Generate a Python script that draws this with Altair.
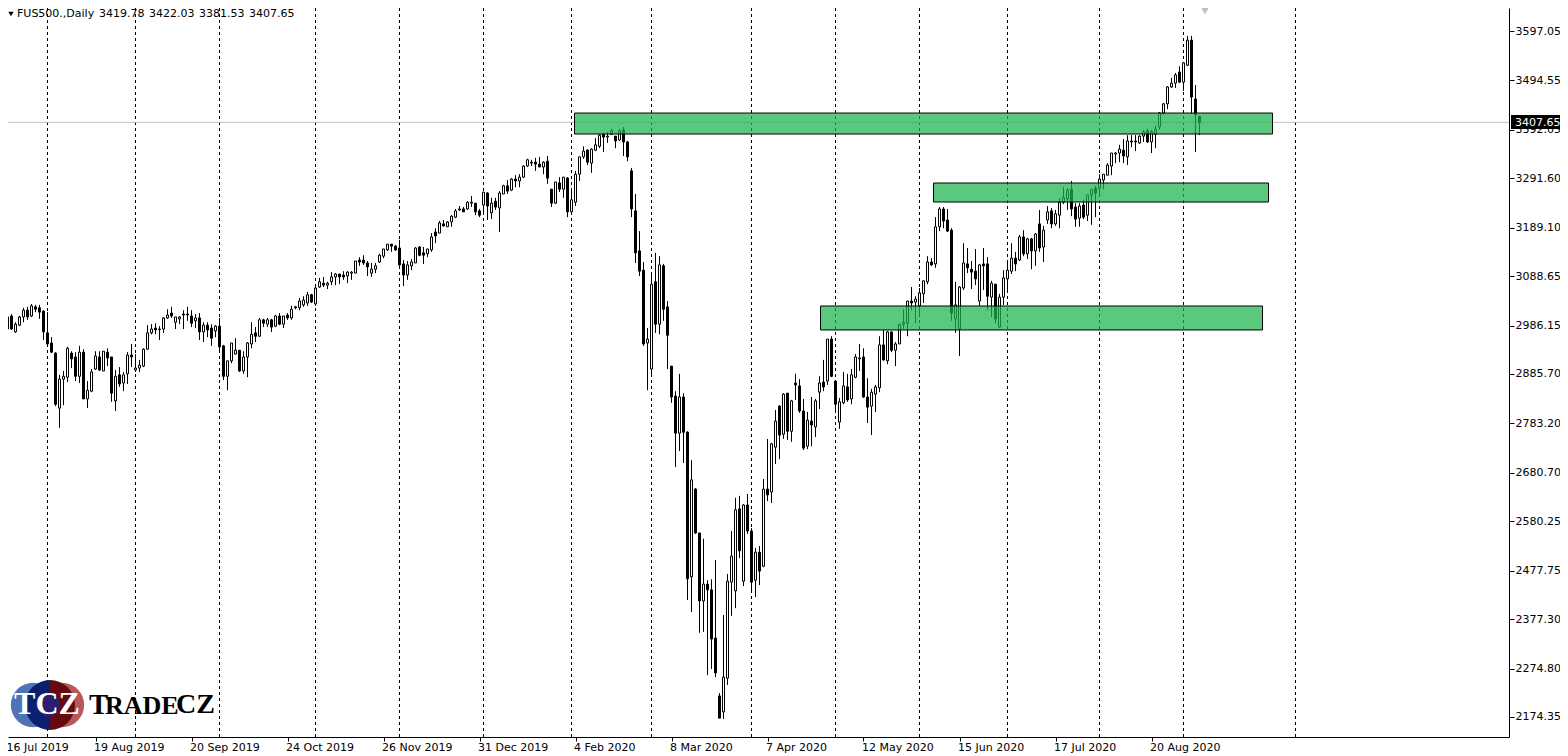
import json
import altair as alt
import pandas as pd

direction = ("BWBWWWBWBB" "BBBBWWWBBW" "BWWWBWBBWB" "WWBWWWWWBB" "WWBWWBBBWB" "WBBWBBWWWB"
             "WWWBWBWBWB" "WBWBWWWBWW" "BWWWBBWWWB" "BBWWWWWBBB" "BWWWBBWWBW" "BWWWWBWWBB"
             "WBWBWWBWBW" "WWWBBWBBWB" "WBWWWWBWWW" "BWWBWBBBBB" "BWWBWBBBBW" "BBWBBWBBBB"
             "WWWWBWBBWB" "WBWWBWBWBB" "BWBWWBWBBW" "WBWWWBBWWW" "BWBWWWWBWW" "WWBWWBBBWW"
             "WBBBWBBWBW" "WWWBWBWBWB" "WWBWWWWBBW" "BWWBWWWWWW" "BWBBWWBWWW" "WWWWBWWBBB")

highs = [
 3006,3006,3010,2993,3006,3023,3025,3031,3029,3029,3018,3014,2962,2931,2884,2892,2942,2933,2931,2944,
 2937,2871,2896,2933,2933,2933,2939,2921,2894,2900,2890,2931,2948,2927,2915,2939,2987,2989,2991,2985,
 3004,3020,3025,3004,3006,3018,3025,3018,3010,3012,2993,2993,2989,2987,3002,2946,2913,2950,2960,2935,
 2933,2952,2993,2983,3002,3000,3002,3000,3008,3012,3006,3012,3027,3027,3043,
 3047,3056,3052,3066,3085,3087,3077,3097,3095,3093,3099,3099,3099,3120,3128,3132,3120,3116,3116,3135,
 3145,3155,3155,3153,3164,3122,3120,3124,3149,3151,3149,3145,3178,3188,3203,3205,3203,3215,3228,3234,
 3232,3244,3255,3240,3228,3263,3263,3251,3251,3265,3278,3288,3292,3298,3300,3319,3332,3330,3334,3336,
 3327,3338,3269,3284,3294,3294,3294,3267,3307,3336,3358,3352,3354,3375,3383,
 3386,3388,3394,3379,3394,3398,3369,3313,3259,3182,3118,2981,3093,3137,3130,3114,3037,2902,2850,2886,
 2846,2767,2707,2649,2556,2544,2458,2460,2500,2224,2386,2471,2560,2629,2633,2616,2637,2566,2525,2529,
 2668,2751,2743,2811,2821,2846,2846,2832,2886,2875,
 2834,2807,2838,2834,2881,2915,2958,2964,2873,2836,2890,2886,2896,2927,2948,2939,2877,2855,2863,2964,
 2977,2975,2973,2952,2989,3020,3037,3066,3047,3064,3079,3130,3126,3211,3232,3232,3228,3188,3077,3068,
 3157,3147,3120,3145,3114,3147,3128,3079,3072,3052,3101,3118,3157,3139,3174,3184,3168,3168,3178,3226,
 3193,3234,3230,3226,3251,3273,3271,3286,3240,3240,3247,3257,3269,3276,3300,3300,3323,3344,3346,3361,
 3373,3381,3381,3381,3381,3392,3394,3392,3400,3429,3448,3483,3500,3510,3524,3533,3587,3587,3485,3422.03]

body_top = [
 3006,3004,3006,2989,3004,3018,3018,3027,3025,3023,3016,2971,2950,2929,2875,2881,2939,2929,2921,2931,
 2931,2852,2890,2923,2921,2933,2931,2921,2881,2884,2884,2925,2925,2898,2904,2937,2971,2979,2981,2979,
 3002,3008,3012,3004,3004,3010,3010,3006,3002,3002,2987,2987,2981,2985,2985,2944,2913,2950,2935,2935,
 2921,2950,2968,2971,2998,2998,2998,2998,3006,3006,3006,3008,3020,3025,3037,
 3039,3050,3050,3064,3077,3074,3074,3087,3093,3093,3091,3097,3097,3120,3122,3122,3116,3103,3110,3132,
 3145,3155,3155,3151,3147,3114,3112,3118,3147,3149,3137,3145,3170,3180,3199,3197,3201,3213,3224,3228,
 3228,3242,3242,3240,3224,3263,3261,3240,3244,3261,3276,3276,3290,3290,3294,3317,3330,3325,3325,3321,
 3325,3327,3269,3284,3282,3294,3292,3247,3300,3336,3348,3350,3352,3361,3381,
 3383,3379,3390,3379,3390,3392,3367,3307,3224,3141,3101,2958,3072,3077,3112,3110,3025,2902,2840,2838,
 2838,2765,2666,2647,2556,2450,2450,2438,2338,2218,2257,2456,2508,2604,2606,2614,2614,2560,2516,2516,
 2647,2647,2741,2788,2819,2844,2846,2830,2867,2861,
 2809,2790,2788,2830,2867,2869,2958,2958,2871,2828,2861,2859,2884,2921,2919,2921,2838,2848,2859,2946,
 2946,2973,2973,2948,2989,2993,3037,3037,3041,3054,3079,3118,3118,3191,3228,3228,3205,3184,3029,3066,
 3116,3114,3103,3099,3112,3114,3114,3074,3072,3045,3085,3101,3126,3126,3170,3170,3166,3166,3176,3197,
 3184,3222,3224,3218,3242,3251,3267,3269,3232,3234,3236,3257,3269,3271,3290,3300,3319,3344,3344,3352,
 3350,3369,3369,3369,3379,3388,3390,3388,3394,3427,3446,3481,3489,3506,3512,3531,3578,3578,3456,3419.78]

body_bottom = [
 2979,2979,2979,2973,2987,3004,3004,3006,3020,3014,2973,2948,2931,2823,2815,2875,2879,2917,2881,2881,
 2834,2834,2850,2896,2894,2892,2919,2846,2830,2865,2867,2886,2921,2894,2898,2902,2937,2971,2977,2978,
 2979,3002,3006,2993,3000,3008,3008,2991,2996,2973,2973,2977,2960,2975,2942,2881,2881,2913,2927,2892,
 2892,2921,2948,2964,2964,2991,2989,2983,2985,2989,2989,3002,3002,3023,3023,
 3029,3033,3035,3031,3066,3070,3070,3077,3087,3087,3087,3089,3095,3095,3118,3116,3108,3095,3103,3118,
 3130,3143,3151,3143,3112,3091,3091,3110,3116,3132,3132,3135,3143,3172,3178,3193,3191,3201,3211,3226,
 3222,3228,3240,3222,3215,3236,3234,3220,3232,3230,3259,3265,3267,3286,3286,3294,3317,3323,3321,3315,
 3315,3292,3240,3240,3269,3269,3222,3222,3242,3300,3336,3325,3323,3350,3358,
 3377,3377,3383,3369,3371,3367,3336,3228,3137,3099,2948,2950,2896,2989,2989,3020,2966,2838,2763,2763,
 2765,2461,2465,2556,2415,2415,2438,2336,2266,2172,2185,2255,2454,2436,2519,2456,2560,2454,2458,2477,
 2487,2635,2641,2734,2759,2761,2767,2767,2863,2809,
 2732,2736,2780,2776,2848,2859,2871,2881,2823,2786,2826,2832,2834,2879,2917,2838,2817,2819,2844,2857,
 2915,2913,2935,2935,2948,2989,2991,3033,3035,3027,3052,3077,3112,3114,3191,3203,3182,3012,3000,2979,
 3064,3106,3097,3083,3037,3110,3047,3045,3000,2983,3045,3083,3099,3114,3122,3135,3135,3141,3141,3147,
 3149,3205,3197,3197,3215,3242,3249,3228,3207,3209,3211,3215,3257,3261,3271,3288,3298,3317,3342,3344,
 3338,3336,3367,3367,3365,3379,3367,3367,3383,3398,3427,3446,3481,3489,3491,3491,3526,3460,3423,3407.65]

lows = [
 2979,2973,2977,2971,2985,2993,2998,3004,3014,3000,2956,2946,2929,2819,2774,2821,2869,2898,2871,2867,
 2834,2815,2848,2894,2892,2892,2902,2828,2809,2859,2850,2865,2900,2890,2890,2900,2937,2968,2968,2956,
 2971,3000,3002,2979,2989,2979,2996,2983,2981,2956,2952,2962,2944,2962,2935,2873,2852,2908,2927,2890,
 2886,2879,2939,2952,2964,2983,2983,2973,2983,2987,2981,2998,2998,3020,3018,
 3025,3027,3033,3027,3064,3066,3062,3070,3070,3072,3081,3074,3081,3095,3110,3112,3089,3087,3095,3116,
 3126,3141,3139,3141,3110,3068,3081,3101,3116,3130,3114,3128,3139,3157,3178,3191,3191,3191,3209,3224,
 3222,3226,3232,3215,3211,3220,3205,3207,3226,3180,3259,3259,3265,3273,3273,3292,3315,3317,3307,3315,
 3300,3280,3232,3238,3263,3251,3211,3222,3234,3286,3332,3319,3303,3348,3354,
 3346,3365,3383,3354,3369,3338,3327,3211,3116,3089,2944,2852,2884,2971,2968,2996,2896,2826,2693,2726,
 2701,2417,2392,2554,2349,2351,2261,2274,2257,2172,2170,2241,2384,2400,2504,2446,2554,2434,2423,2448,
 2485,2622,2618,2699,2709,2751,2749,2745,2832,2805,
 2728,2730,2736,2755,2813,2850,2863,2879,2809,2772,2823,2828,2823,2877,2892,2836,2784,2759,2807,2848,
 2913,2906,2931,2902,2948,2979,2964,3018,2991,3006,3033,3072,3110,3106,3182,3188,3180,2996,2971,2923,
 3060,3095,3062,3070,3027,3060,3018,3004,2991,2981,3029,3058,3093,3099,3120,3130,3124,3103,3110,3139,
 3118,3197,3188,3193,3188,3238,3226,3213,3191,3191,3207,3203,3195,3211,3257,3269,3298,3298,3323,3325,
 3323,3319,3356,3348,3363,3367,3365,3344,3354,3392,3423,3435,3479,3479,3489,3473,3524,3425,3346,3381.53]

month_grid = [11, 33, 54, 78, 99, 120, 142, 162, 187, 208, 229, 251, 274, 295, 323]
price_ticks = [3597.05, 3494.55, 3392.05, 3291.60, 3189.10, 3088.65, 2986.15, 2885.70,
               2783.20, 2680.70, 2580.25, 2477.75, 2377.30, 2274.80, 2174.35]
date_ticks = [1.125, 23, 47, 71, 95, 119, 143, 167, 191, 215, 239, 263, 287]
date_labels = ["16 Jul 2019", "19 Aug 2019", "20 Sep 2019", "24 Oct 2019", "26 Nov 2019",
               "31 Dec 2019", "4 Feb 2020", "8 Mar 2020", "7 Apr 2020", "12 May 2020",
               "15 Jun 2020", "17 Jul 2020", "20 Aug 2020"]
zone_start = [142.75, 232.5, 204.25]
zone_end = [317.25, 316.25, 314.75]
zone_top = [3426.9, 3281.8, 3026.7]
zone_bottom = [3383.4, 3242.4, 2977.0]
last_price = 3407.65
quote = ["3419.78", "3422.03", "3381.53", "3407.65"]

PLOT_W, PLOT_H = 1501, 729
FONT = "DejaVu Sans"


def px(v):
    return alt.value(v - 8)


xs = alt.Scale(domain=[1.125, 376.375], nice=False, zero=False, padding=0)
ys = alt.Scale(domain=[2132.87, 3644.75], nice=False, zero=False, padding=0)
label_map = json.dumps({str(k): v for k, v in zip(date_ticks, date_labels)})
x_axis = alt.Axis(
    values=date_ticks, labelExpr=f"{label_map}[datum.value]", grid=False, orient="bottom", title=None,
    domainColor="black", tickColor={"condition": {"test": "datum.value < 5", "value": "transparent"}, "value": "black"},
    tickSize=4, labelColor="black", labelFont=FONT, labelFontSize=11, labelAlign="left",
    labelBaseline="top", labelPadding=0, labelOffset=-2, labelOverlap=False, labelFlush=False, labelBound=False)
y_axis = alt.Axis(
    values=price_ticks, format=".2f", grid=False, orient="right", title=None, domainColor="black",
    tickColor="black", tickSize=5, labelColor="black", labelFont=FONT, labelFontSize=11,
    labelPadding=1, labelOverlap=False, labelFlush=False, labelBound=False)
X = alt.X("i:Q", scale=xs, axis=x_axis)


def Y(field):
    return alt.Y(field, scale=ys, axis=y_axis)


candles = pd.DataFrame({
    "i": range(300), "dir": list(direction), "high": highs, "low": lows,
    "open": [t if d == "B" else b for t, b, d in zip(body_top, body_bottom, direction)],
    "close": [b if d == "B" else t for t, b, d in zip(body_top, body_bottom, direction)],
})

grid = alt.Chart(pd.DataFrame({"i": month_grid})).mark_rule(
    color="black", strokeWidth=1, strokeDash=[3, 3]).encode(x=X)
price_line = alt.Chart(pd.DataFrame({"y": [last_price]})).mark_rule(
    color="#c0c0c0", strokeWidth=1).encode(y=Y("y:Q"))
wicks = alt.Chart(candles).mark_rule(color="black", strokeWidth=1, clip=True).encode(
    x=X, y=Y("high:Q"), y2="low:Q")
bodies = alt.Chart(candles).mark_bar(size=2, stroke="black", strokeWidth=1, clip=True, orient="vertical").encode(
    x=X, y=Y("open:Q"), y2="close:Q",
    color=alt.Color("dir:N", scale=alt.Scale(domain=["B", "W"], range=["black", "white"]), legend=None))
zones = alt.Chart(pd.DataFrame({"i": zone_start, "i2": zone_end, "t": zone_top, "b": zone_bottom})).mark_rect(
    fill="#1db34d", fillOpacity=0.73, stroke="black", strokeWidth=1).encode(
    x=X, x2="i2:Q", y=Y("t:Q"), y2="b:Q")


def circle(cx, cy, d, color, op=1.0):
    return alt.Chart(pd.DataFrame({"a": [0]})).mark_point(
        filled=True, shape="circle", size=3.1416 * d * d, color=color, opacity=op, strokeWidth=0
    ).encode(x=px(cx), y=px(cy))


def half(theta, theta2, color):
    return alt.Chart(pd.DataFrame({"a": [0]})).mark_arc(
        radius=25, theta=theta, theta2=theta2, color=color
    ).encode(x=px(50), y=px(705))


def label(txt, x, y, size, color="black", font=FONT, weight="normal", align="left"):
    return alt.Chart(pd.DataFrame({"t": [txt]})).mark_text(
        font=font, fontSize=size, color=color, fontWeight=weight, align=align, baseline="middle"
    ).encode(x=px(x), y=px(y), text="t:N")


badge = alt.Chart(pd.DataFrame({"a": [0]})).mark_rect(color="black").encode(
    x=px(1511), x2=px(1560), y=px(115), y2=px(129))

header = [label("FUS500.,Daily", 17, 14, 11)] + [
    label(q, 99 + 50 * k, 14, 11) for k, q in enumerate(quote)]
marker = alt.Chart(pd.DataFrame({"a": [0]})).mark_point(
    filled=True, shape="triangle-down", size=28, color="black", opacity=1).encode(x=px(11), y=px(14))
tab = alt.Chart(pd.DataFrame({"a": [0]})).mark_point(
    filled=True, shape="triangle-down", size=60, color="#c0c0c0", opacity=1).encode(x=px(1205), y=px(11))

logo = [
    circle(33, 705, 25, "#4f74b5"), circle(62, 705, 25, "#b55a5a"),
    half(0, 3.1416, "#650a10"), half(3.1416, 6.2832, "#0a1f70"),
    circle(48, 705, 13, "#2a2070"),
    label("TCZ", 47, 704, 32, "white", "Liberation Serif", "bold", "center"),
    label("T", 89, 705, 29, "black", "Liberation Serif", "bold"),
    label("RADE", 105, 706, 26, "black", "Liberation Serif", "bold"),
    label("CZ", 176, 705, 28, "black", "Liberation Serif", "bold"),
]

chart = alt.layer(
    grid, price_line, wicks, bodies, zones, *logo, badge,
    label("3407.65", 1515, 123, 11, "white"), *header, marker, tab,
).properties(
    width=PLOT_W, height=PLOT_H,
    padding={"left": 0, "top": 0, "right": 51, "bottom": 19},
    autosize=alt.AutoSizeParams(type="none"),
    background="white",
).configure_view(stroke=None)

chart.save("out.html", embed_options={"renderer": "svg", "actions": False})
